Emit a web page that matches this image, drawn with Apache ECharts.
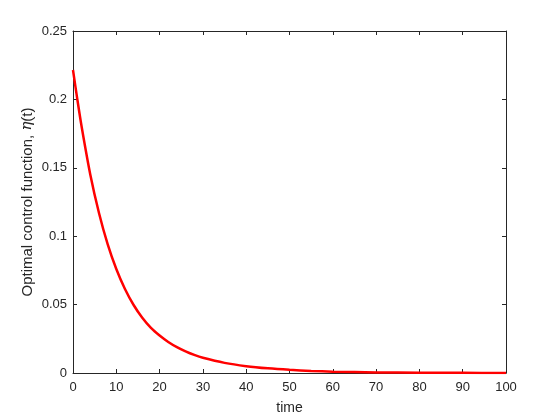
<!DOCTYPE html>
<html>
<head>
<meta charset="utf-8">
<script src="https://cdn.jsdelivr.net/npm/echarts@6/dist/echarts.min.js"></script>
<style>html,body{margin:0;padding:0;background:#fff;}#c{width:560px;height:420px;}</style>
</head>
<body>
<div id="c"></div>
<script>
var timeValues = [0, 1, 2, 4, 6, 8, 10, 12, 14, 16, 18, 20, 22, 24, 26, 28, 30, 35, 40, 45, 50, 55, 60, 70, 80, 90, 100];
var controlValues = [0.2215, 0.2000, 0.1800, 0.1450, 0.1170, 0.0942, 0.0760, 0.0614, 0.0497, 0.0404, 0.0330, 0.0274, 0.0227, 0.0189, 0.0158, 0.0132, 0.0111, 0.0074, 0.0050, 0.0034, 0.0023, 0.0015, 0.0010, 0.00045, 0.0002, 0.0001, 0.00005];
var xTicks = {min: 0, max: 100, interval: 10};
var yTicks = {min: 0, max: 0.25, interval: 0.05};

var points = timeValues.map(function (t, i) { return [t, controlValues[i]]; });
var axisColor = '#262626';
var font = 'Liberation Sans, Arial, Helvetica, sans-serif';

var chart = echarts.init(document.getElementById('c'), null, {renderer: 'canvas'});
chart.setOption({
  animation: false,
  backgroundColor: '#ffffff',
  grid: {left: 73, right: 54, top: 31, bottom: 47, containLabel: false},
  xAxis: [{
    type: 'value', min: xTicks.min, max: xTicks.max, interval: xTicks.interval,
    name: 'time', nameLocation: 'middle', nameGap: 28, nameMoveOverlap: false,
    nameTextStyle: {color: axisColor, fontSize: 14, fontFamily: font},
    axisLine: {show: true, lineStyle: {color: axisColor, width: 1}},
    axisTick: {show: true, inside: true, length: 4, lineStyle: {color: axisColor}},
    axisLabel: {color: axisColor, fontSize: 13, fontFamily: font, margin: 8},
    splitLine: {show: false}
  }, {
    type: 'value', position: 'top', min: xTicks.min, max: xTicks.max, interval: xTicks.interval,
    axisLine: {show: true, onZero: false, lineStyle: {color: axisColor, width: 1}},
    axisTick: {show: true, inside: true, length: 4, lineStyle: {color: axisColor}},
    axisLabel: {show: false}, splitLine: {show: false}
  }],
  yAxis: [{
    type: 'value', min: yTicks.min, max: yTicks.max, interval: yTicks.interval,
    name: '{n|Optimal control function, }{e|η}{n|(t)}', nameLocation: 'middle', nameGap: 38, nameMoveOverlap: false,
    nameTextStyle: {color: axisColor, fontSize: 15, fontFamily: font,
      rich: {n: {fontSize: 15, fontFamily: font, color: axisColor},
             e: {fontSize: 15, fontFamily: 'DejaVu Serif, serif', fontStyle: 'italic', color: axisColor}}},
    axisLine: {show: true, lineStyle: {color: axisColor, width: 1}},
    axisTick: {show: true, inside: true, length: 4, lineStyle: {color: axisColor}},
    axisLabel: {color: axisColor, fontSize: 13, fontFamily: font, margin: 6},
    splitLine: {show: false}
  }, {
    type: 'value', position: 'right', min: yTicks.min, max: yTicks.max, interval: yTicks.interval,
    axisLine: {show: true, onZero: false, lineStyle: {color: axisColor, width: 1}},
    axisTick: {show: true, inside: true, length: 4, lineStyle: {color: axisColor}},
    axisLabel: {show: false}, splitLine: {show: false}
  }],
  series: [{
    type: 'line', data: points, xAxisIndex: 0, yAxisIndex: 0,
    smooth: 0.3, showSymbol: false, symbol: 'none',
    lineStyle: {color: '#ff0000', width: 2.5}
  }]
});
</script>
</body>
</html>
